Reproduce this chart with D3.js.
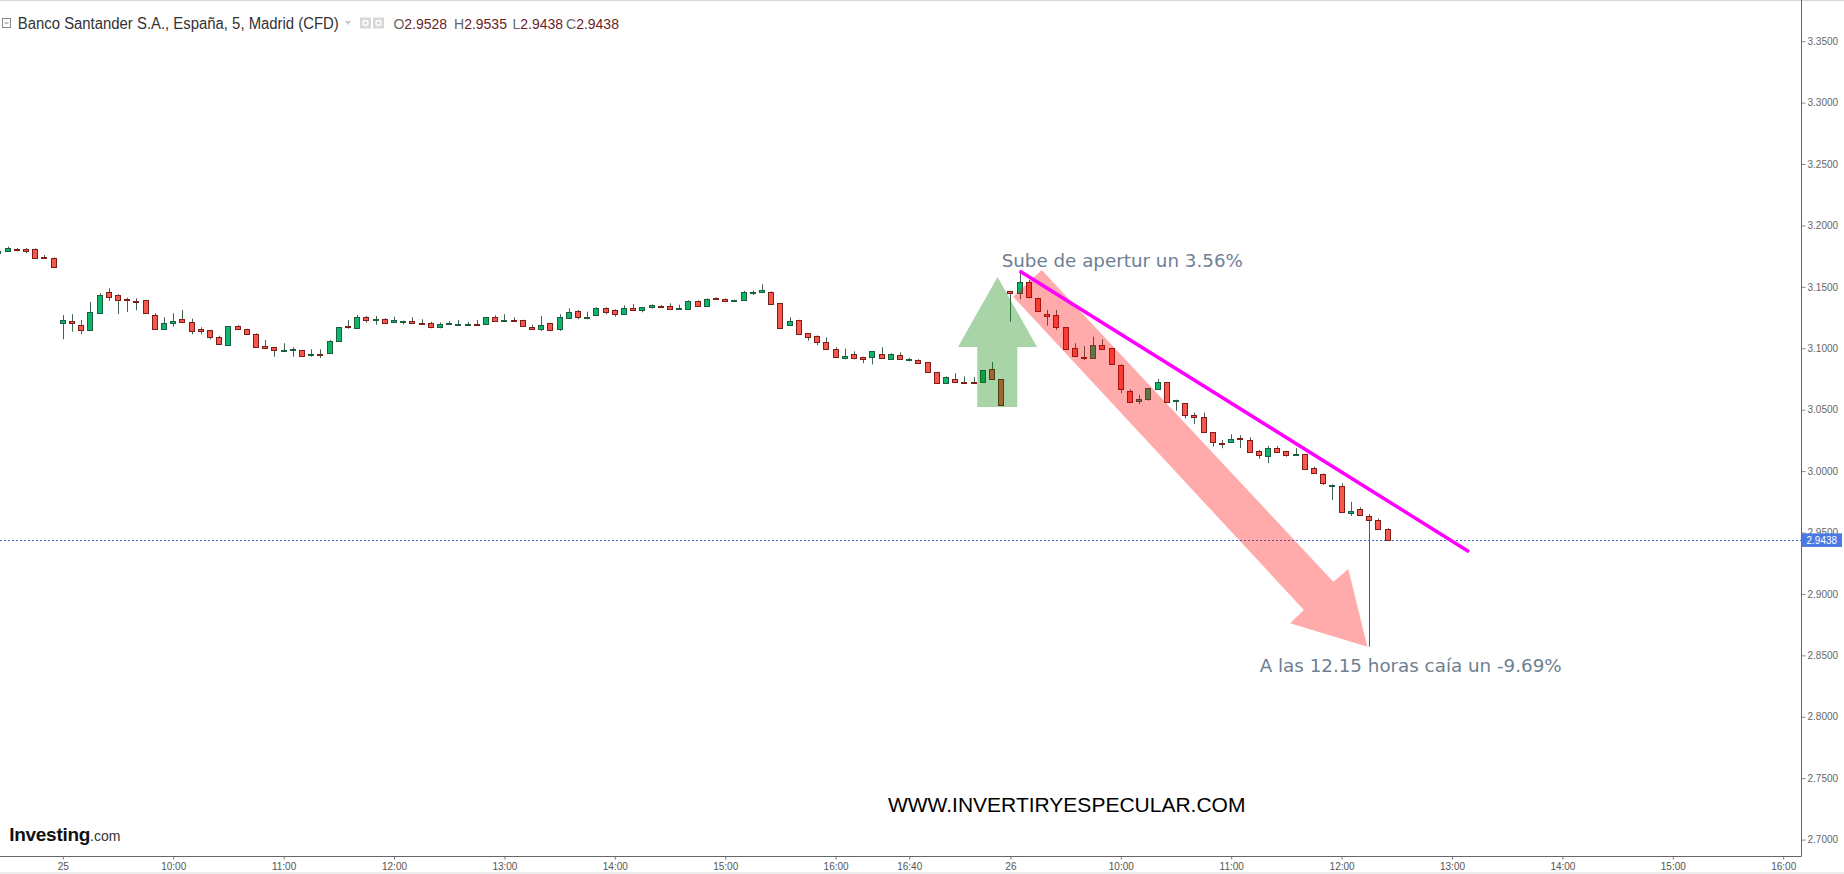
<!DOCTYPE html>
<html><head><meta charset="utf-8">
<script src="https://cdn.jsdelivr.net/npm/d3@7/dist/d3.min.js"></script>
<style>
html,body{margin:0;padding:0;background:#fff;overflow:hidden}
svg{display:block}
</style></head><body>
<svg id="chart" width="1844" height="874"></svg>
<script>
// ---------- DATA (5-minute candles, Banco Santander CFD) ----------
// tail of the previous session (bar index -7 .. -1)
const prevOpen  = [3.1775, 3.1792, 3.1811, 3.1806, 3.1806, 3.1745, 3.1737];
const prevHigh  = [3.1800, 3.1827, 3.1816, 3.1816, 3.1814, 3.1759, 3.1740];
const prevLow   = [3.1770, 3.1786, 3.1789, 3.1773, 3.1737, 3.1727, 3.1662];
const prevClose = [3.1790, 3.1819, 3.1800, 3.1794, 3.1737, 3.1735, 3.1664];

// session of the 25th (09:00 .. 17:30, bar index 0 .. 102)
const day25Open = [3.1203,3.1225,3.1187,3.1149,3.1287,3.1458,3.1431,3.1399,3.1387,3.1393,3.1268,3.1157,3.1203,3.1236,3.1211,3.1154,3.1149,3.1092,3.1024,3.1181,3.1154,3.1114,3.1016,3.1008,3.0975,3.0984,3.0984,3.0943,3.0956,3.0959,3.1057,3.1181,3.1162,3.1252,3.1228,3.1236,3.1214,3.1214,3.1220,3.1203,3.1203,3.1171,3.1195,3.1187,3.1187,3.1198,3.1195,3.1252,3.1222,3.1230,3.1230,3.1171,3.1154,3.1206,3.1154,3.1244,3.1303,3.1244,3.1269,3.1325,3.1312,3.1281,3.1325,3.1309,3.1334,3.1344,3.1342,3.1317,3.1317,3.1385,3.1347,3.1409,3.1401,3.1382,3.1391,3.1448,3.1456,3.1458,3.1366,3.1187,3.1230,3.1122,3.1100,3.1049,3.0997,3.0921,3.0951,3.0927,3.0929,3.0956,3.0915,3.0945,3.0902,3.0905,3.0886,3.0807,3.0720,3.0750,3.0726,3.0726,3.0726,3.0829,3.0748];
const day25High = [3.1271,3.1277,3.1230,3.1379,3.1448,3.1488,3.1439,3.1412,3.1407,3.1395,3.1285,3.1252,3.1285,3.1312,3.1241,3.1171,3.1150,3.1102,3.1181,3.1189,3.1159,3.1122,3.1067,3.1010,3.1041,3.1008,3.0986,3.0992,3.0992,3.1067,3.1173,3.1230,3.1271,3.1263,3.1263,3.1245,3.1257,3.1226,3.1252,3.1236,3.1216,3.1211,3.1220,3.1230,3.1214,3.1230,3.1254,3.1268,3.1277,3.1252,3.1232,3.1192,3.1263,3.1208,3.1277,3.1325,3.1312,3.1298,3.1334,3.1334,3.1317,3.1350,3.1360,3.1336,3.1358,3.1352,3.1366,3.1355,3.1391,3.1391,3.1407,3.1415,3.1407,3.1395,3.1466,3.1469,3.1521,3.1464,3.1368,3.1252,3.1232,3.1124,3.1105,3.1089,3.1008,3.0997,3.0975,3.0932,3.0977,3.1008,3.0959,3.0967,3.0923,3.0911,3.0888,3.0809,3.0771,3.0796,3.0771,3.0766,3.0823,3.0888,3.0750];
const day25Low  = [3.1073,3.1135,3.1114,3.1149,3.1285,3.1387,3.1279,3.1295,3.1309,3.1285,3.1152,3.1155,3.1176,3.1208,3.1114,3.1114,3.1073,3.1030,3.1022,3.1155,3.1112,3.1008,3.0997,3.0931,3.0973,3.0931,3.0938,3.0931,3.0921,3.0957,3.1055,3.1159,3.1160,3.1208,3.1192,3.1200,3.1208,3.1195,3.1201,3.1194,3.1163,3.1163,3.1194,3.1185,3.1185,3.1185,3.1193,3.1216,3.1220,3.1220,3.1177,3.1152,3.1141,3.1147,3.1141,3.1242,3.1236,3.1236,3.1267,3.1277,3.1257,3.1279,3.1307,3.1293,3.1325,3.1334,3.1315,3.1315,3.1315,3.1339,3.1345,3.1397,3.1380,3.1380,3.1389,3.1434,3.1454,3.1361,3.1166,3.1185,3.1112,3.1062,3.1024,3.0995,3.0927,3.0910,3.0910,3.0878,3.0869,3.0919,3.0910,3.0908,3.0894,3.0876,3.0805,3.0713,3.0718,3.0724,3.0713,3.0713,3.0724,3.0746,3.0534];
const day25Close= [3.1230,3.1203,3.1149,3.1293,3.1431,3.1420,3.1391,3.1391,3.1379,3.1287,3.1154,3.1203,3.1225,3.1214,3.1143,3.1143,3.1089,3.1032,3.1179,3.1157,3.1114,3.1010,3.1002,3.0984,3.0986,3.0994,3.0940,3.0953,3.0948,3.1059,3.1171,3.1171,3.1252,3.1230,3.1238,3.1203,3.1233,3.1225,3.1203,3.1195,3.1171,3.1195,3.1203,3.1195,3.1195,3.1190,3.1252,3.1222,3.1230,3.1222,3.1179,3.1154,3.1187,3.1149,3.1252,3.1293,3.1252,3.1252,3.1325,3.1293,3.1281,3.1325,3.1309,3.1334,3.1350,3.1336,3.1317,3.1325,3.1385,3.1347,3.1401,3.1399,3.1382,3.1393,3.1458,3.1458,3.1474,3.1363,3.1168,3.1225,3.1114,3.1094,3.1054,3.0997,3.0929,3.0937,3.0921,3.0915,3.0975,3.0921,3.0951,3.0910,3.0915,3.0878,3.0807,3.0715,3.0766,3.0726,3.0715,3.0715,3.0821,3.0748,3.0536];

// session of the 26th (09:00 .. 12:30, bar index 103 .. 144)
const day26Open = [3.1466,3.1448,3.1542,3.1407,3.1277,3.1268,3.1171,3.1000,3.0931,3.0923,3.1024,3.1000,3.0864,3.0655,3.0573,3.0585,3.0666,3.0723,3.0568,3.0552,3.0457,3.0438,3.0316,3.0231,3.0235,3.0270,3.0253,3.0166,3.0126,3.0191,3.0161,3.0131,3.0139,3.0023,2.9979,2.9881,2.9879,2.9657,2.9694,2.9635,2.9600,2.9528];
const day26High = [3.1468,3.1629,3.1556,3.1412,3.1312,3.1312,3.1173,3.1041,3.1019,3.1094,3.1073,3.1002,3.0870,3.0666,3.0620,3.0676,3.0750,3.0725,3.0581,3.0554,3.0476,3.0476,3.0318,3.0253,3.0300,3.0292,3.0275,3.0172,3.0205,3.0205,3.0166,3.0186,3.0141,3.0036,2.9981,2.9891,2.9901,2.9749,2.9706,2.9651,2.9613,2.9535];
const day26Low  = [3.1216,3.1399,3.1407,3.1301,3.1184,3.1149,3.0990,3.0927,3.0905,3.0918,3.0995,3.0868,3.0634,3.0558,3.0546,3.0573,3.0664,3.0561,3.0492,3.0430,3.0384,3.0314,3.0199,3.0186,3.0233,3.0188,3.0151,3.0101,3.0064,3.0151,3.0117,3.0129,3.0013,2.9985,2.9887,2.9765,2.9663,2.9635,2.9641,2.8571,2.9527,2.9438];
const day26Close= [3.1450,3.1542,3.1420,3.1303,3.1265,3.1171,3.0992,3.0940,3.0918,3.1024,3.0997,3.0870,3.0666,3.0563,3.0587,3.0674,3.0728,3.0563,3.0579,3.0454,3.0438,3.0316,3.0235,3.0218,3.0259,3.0259,3.0153,3.0131,3.0191,3.0153,3.0131,3.0139,3.0015,2.9987,2.9901,2.9889,2.9665,2.9678,2.9643,2.9600,2.9528,2.9438];

const sessionStart = [-7, 0, 103];     // first bar index of each block

// x-axis ticks (bar index -> label)
const xTickIndex  = [0, 12, 24, 36, 48, 60, 72, 84, 92, 103, 115, 127, 139, 151, 163, 175, 187];
const xTickLabels = ["25","10:00","11:00","12:00","13:00","14:00","15:00","16:00","16:40","26","10:00","11:00","12:00","13:00","14:00","15:00","16:00"];
// y-axis ticks
const yTicks = [2.70,2.75,2.80,2.85,2.90,2.95,3.00,3.05,3.10,3.15,3.20,3.25,3.30,3.35];

// annotations, in data coordinates [bar index, price]
const greenArrow = [[101.6,3.1580],[105.9,3.1010],[103.75,3.1010],[103.75,3.0522],[99.4,3.0522],[99.4,3.1010],[97.3,3.1010]];
const redArrow   = [[106.4,3.1637],[138.1,2.9100],[139.73,2.9203],[141.8,2.8571],[133.4,2.8761],[134.9,2.8870],[103.3,3.1420]];
const trendLine  = [[104,3.1629],[152.85,2.9344]];
const noteUp   = {i:102.05, p:3.1659, text:"Sube de apertur un 3.56%"};
const noteDown = {i:130.1,  p:2.8365, text:"A las 12.15 horas caía un -9.69%"};

// ---------- BUILD ----------
function block(start,O,H,L,C){return O.map((o,k)=>({i:start+k,o:o,h:H[k],l:L[k],c:C[k]}));}
const candles = [].concat(
  block(sessionStart[0],prevOpen,prevHigh,prevLow,prevClose),
  block(sessionStart[1],day25Open,day25High,day25Low,day25Close),
  block(sessionStart[2],day26Open,day26High,day26Low,day26Close));
const last = candles[candles.length-1];

const W=1844, H=874, axisX=1801.5, axisY=856.5;
const x = d3.scaleLinear().domain([0,187]).range([62.8,1783.2]);
const y = d3.scaleLinear().domain([2.70,3.35]).range([839.6,41.2]);

const svg = d3.select("#chart");
svg.append("defs").append("clipPath").attr("id","plot")
  .append("rect").attr("x",0).attr("y",0).attr("width",axisX).attr("height",axisY);

// frame
svg.append("line").attr("x1",0).attr("x2",W).attr("y1",0.5).attr("y2",0.5).attr("stroke","#d6d6d6");
svg.append("rect").attr("x",0).attr("y",872).attr("width",W).attr("height",2).attr("fill","#ececec");

const plot = svg.append("g").attr("clip-path","url(#plot)");

// current price line
plot.append("line").attr("x1",0).attr("x2",axisX)
  .attr("y1",Math.round(y(last.c))+0.5).attr("y2",Math.round(y(last.c))+0.5)
  .attr("stroke","#3f63d6").attr("stroke-width",1).attr("stroke-dasharray","2,2");

// candles
const cx = d => Math.round(x(d.i));
const g = plot.append("g");
g.selectAll("line.wick").data(candles).join("line").attr("class","wick")
  .attr("x1",d=>cx(d)+0.5).attr("x2",d=>cx(d)+0.5)
  .attr("y1",d=>y(d.h)).attr("y2",d=>y(d.l))
  .attr("stroke","#3f6452").attr("stroke-width",1);
g.selectAll("rect.body").data(candles).join("rect").attr("class","body")
  .attr("x",d=>cx(d)-2.5).attr("width",5)
  .attr("y",d=>Math.round(y(Math.max(d.o,d.c)))+0.5)
  .attr("height",d=>Math.max(1,Math.round(y(Math.min(d.o,d.c)))-Math.round(y(Math.max(d.o,d.c)))))
  .attr("fill",d=>d.c>=d.o?"#0bb56a":"#f6584e")
  .attr("stroke",d=>d.c>=d.o?"#1d5c3c":"#7d1d17").attr("stroke-width",1);

// overlays
const line = d3.line().x(d=>x(d[0])).y(d=>y(d[1]));
plot.append("path").attr("d",line(greenArrow)+"Z").attr("fill","rgb(0,128,0)").attr("fill-opacity",0.34);
plot.append("path").attr("d",line(redArrow)+"Z").attr("fill","rgb(255,0,0)").attr("fill-opacity",0.33);
plot.append("path").attr("d",line(trendLine)).attr("stroke","#ff00ff").attr("stroke-width",3.5).attr("fill","none").attr("stroke-linecap","butt");

const noteStyle = s => s.attr("font-family","'DejaVu Sans', sans-serif").attr("font-size","18.3px").attr("fill","#6e8093");
plot.append("text").attr("x",x(noteUp.i)).attr("y",y(noteUp.p)).text(noteUp.text).call(noteStyle);
plot.append("text").attr("x",x(noteDown.i)).attr("y",y(noteDown.p)).text(noteDown.text).call(noteStyle);

// watermark
svg.append("text").attr("x",1066.7).attr("y",811.5).attr("text-anchor","middle")
  .attr("font-family","'Liberation Sans', Arial, sans-serif").attr("font-size","21px").attr("fill","#000")
  .text("WWW.INVERTIRYESPECULAR.COM");

// Investing.com logo
const logo = svg.append("text").attr("x",9.3).attr("y",841).attr("font-family","'Liberation Sans', Arial, sans-serif");
logo.append("tspan").attr("font-weight","bold").attr("font-size","19px").attr("letter-spacing","-0.3px").attr("fill","#111").text("Investing");
logo.append("tspan").attr("font-size","14px").attr("fill","#333").text(".com");

// axes
const yAxis = d3.axisRight(y).tickValues(yTicks).tickFormat(d3.format(".4f")).tickSize(4).tickPadding(2);
const ya = svg.append("g").attr("transform",`translate(${axisX},0)`).call(yAxis);
ya.select(".domain").remove();
ya.selectAll(".tick line").attr("stroke","#888");
ya.selectAll(".tick text").attr("fill","#666").attr("font-family","'Liberation Sans', Arial, sans-serif").attr("font-size","10px");

const xAxis = d3.axisBottom(x).tickValues(xTickIndex).tickFormat((d,k)=>xTickLabels[k]).tickSize(3).tickPadding(3);
const xa = svg.append("g").attr("transform",`translate(0,${axisY})`).call(xAxis);
xa.select(".domain").remove();
xa.selectAll(".tick line").attr("stroke","#777");
xa.selectAll(".tick text").attr("fill","#555").attr("font-family","'Liberation Sans', Arial, sans-serif").attr("font-size","10px");

svg.append("line").attr("x1",0).attr("x2",axisX).attr("y1",axisY).attr("y2",axisY).attr("stroke","#666");
svg.append("line").attr("x1",axisX).attr("x2",axisX).attr("y1",0).attr("y2",axisY).attr("stroke","#666");

// last price marker
const ly = y(last.c);
svg.append("rect").attr("x",axisX).attr("y",ly-6.8).attr("width",W-axisX-2).attr("height",13.6).attr("fill","#4c78e4");
svg.append("text").attr("x",axisX+5).attr("y",ly+3.6).attr("fill","#fff")
  .attr("font-family","'Liberation Sans', Arial, sans-serif").attr("font-size","10px").text(d3.format(".4f")(last.c));

// header
const hdr = svg.append("g");
hdr.append("rect").attr("x",2.5).attr("y",18.5).attr("width",8).attr("height",9).attr("fill","none").attr("stroke","#888");
hdr.append("line").attr("x1",4.5).attr("x2",8.5).attr("y1",23).attr("y2",23).attr("stroke","#888");
hdr.append("text").attr("x",17.8).attr("y",29).attr("font-family","'Liberation Sans', Arial, sans-serif")
  .attr("font-size","16px").attr("fill","#333").attr("textLength",321).attr("lengthAdjust","spacingAndGlyphs")
  .text("Banco Santander S.A., España, 5, Madrid (CFD)");
hdr.append("path").attr("d","M345,21 L351,21 L348,25 Z").attr("fill","#c8c8c8");
[360,373].forEach(px=>{
  hdr.append("rect").attr("x",px).attr("y",17.5).attr("width",11).attr("height",11).attr("fill","#d8d8d8");
  hdr.append("circle").attr("cx",px+5.5).attr("cy",23).attr("r",2.5).attr("fill","none").attr("stroke","#fff").attr("stroke-width",1.3);
});
const ohlc = [["O",last.o,393.4],["H",last.h,454],["L",last.l,512.5],["C",last.c,566]];
ohlc.forEach(([k,v,px])=>{
  const t = hdr.append("text").attr("x",px).attr("y",29).attr("font-family","'Liberation Sans', Arial, sans-serif").attr("font-size","14px");
  t.append("tspan").attr("fill","#666").text(k);
  t.append("tspan").attr("fill","#6b1f1f").text(d3.format(".4f")(v));
});
</script>
</body></html>
